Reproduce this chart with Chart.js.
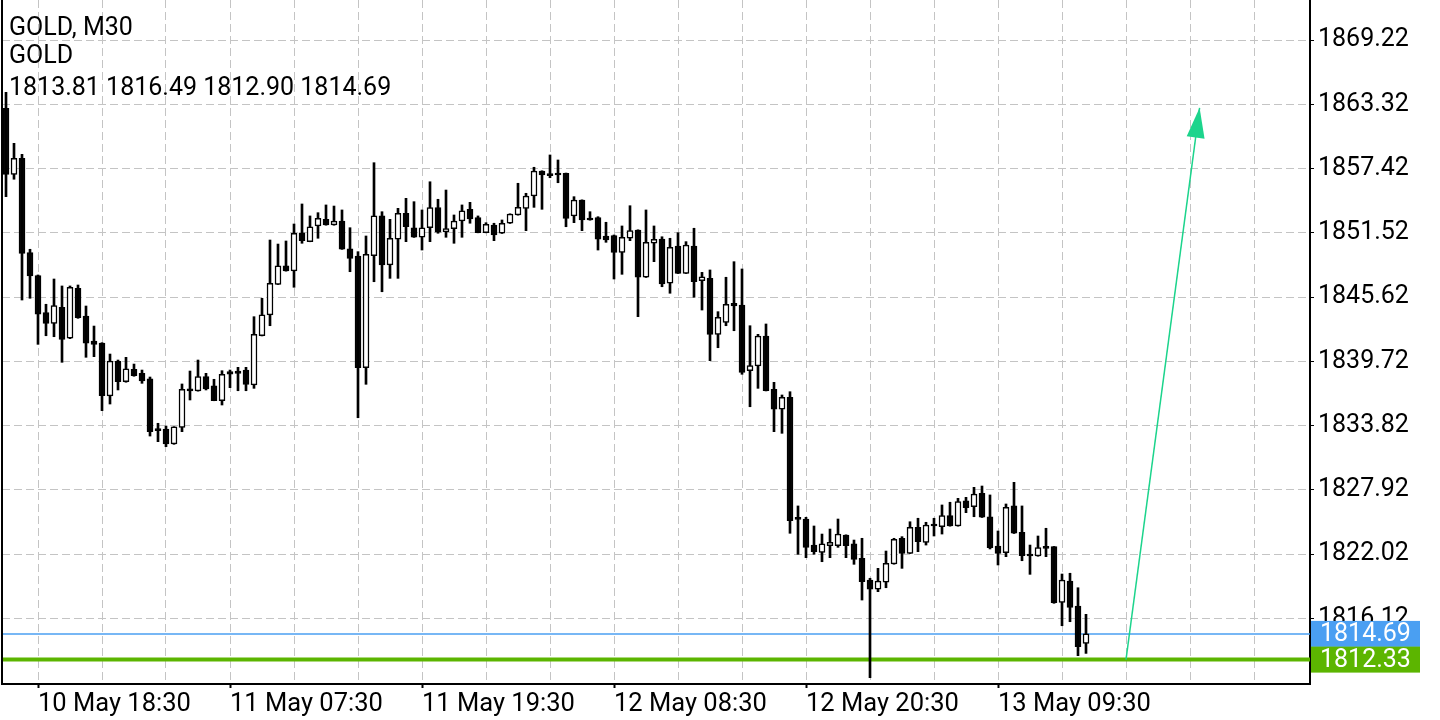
<!DOCTYPE html>
<html>
<head>
<meta charset="utf-8">
<script src="https://cdn.jsdelivr.net/npm/chart.js@4.4.0/dist/chart.umd.min.js"></script>
<style>
  html, body { margin: 0; padding: 0; background: #fff; }
  canvas { display: block; }
</style>
</head>
<body>
<canvas id="chart" width="1440" height="720"></canvas>
<script>
// GOLD M30 candles, 10 May 16:30 -> 13 May 14:30 (one per array slot)
const opens = [
  1862.96, 1856.89, 1858.36, 1849.70, 1847.60, 1844.19, 1843.21, 1844.68, 1841.84, 1846.43,
  1843.88, 1841.59, 1841.40, 1836.54, 1839.72, 1837.85, 1838.99, 1838.62, 1838.12, 1833.51,
  1833.51, 1832.13, 1833.66, 1837.15, 1837.00, 1838.31, 1837.48, 1836.11, 1838.77, 1838.83,
  1838.92, 1837.55, 1842.07, 1843.98, 1846.79, 1848.50, 1848.02, 1851.53, 1850.71, 1852.15,
  1852.76, 1852.24, 1852.61, 1850.04, 1849.39, 1839.14, 1849.42, 1853.07, 1848.57, 1850.93,
  1853.31, 1851.99, 1851.11, 1851.99, 1853.83, 1851.60, 1851.90, 1852.61, 1853.68, 1852.91,
  1851.53, 1852.24, 1851.48, 1852.40, 1853.16, 1853.77, 1854.90, 1857.20, 1856.92, 1856.99,
  1856.99, 1853.07, 1854.53, 1852.85, 1852.91, 1851.23, 1851.26, 1849.73, 1851.02, 1851.78,
  1847.44, 1850.56, 1850.95, 1846.89, 1850.31, 1847.80, 1850.31, 1847.12, 1847.34, 1842.20,
  1843.30, 1845.05, 1844.89, 1838.86, 1839.29, 1842.05, 1837.15, 1835.32, 1836.42, 1825.24,
  1825.24, 1822.85, 1822.18, 1822.79, 1822.79, 1823.77, 1822.95, 1821.63, 1819.64, 1818.79,
  1819.43, 1821.11, 1823.47, 1822.09, 1824.48, 1823.10, 1824.76, 1824.54, 1825.55, 1824.60,
  1826.90, 1826.37, 1827.60, 1825.45, 1822.76, 1822.15, 1826.44, 1824.02, 1822.00, 1821.84,
  1822.70, 1822.70, 1817.59, 1819.55, 1817.25, 1813.81
];
const highs = [
  1864.42, 1859.74, 1858.73, 1850.01, 1847.65, 1844.96, 1847.28, 1846.64, 1846.64, 1846.73,
  1844.80, 1842.96, 1841.43, 1840.39, 1839.84, 1840.09, 1839.47, 1838.92, 1838.28, 1834.03,
  1833.78, 1833.72, 1837.64, 1838.83, 1839.84, 1838.62, 1838.07, 1838.86, 1838.92, 1839.17,
  1839.17, 1843.82, 1845.51, 1850.86, 1850.49, 1850.77, 1852.33, 1854.17, 1853.07, 1853.37,
  1854.08, 1853.98, 1853.62, 1851.99, 1849.79, 1851.23, 1857.96, 1853.46, 1852.76, 1853.77,
  1854.69, 1854.38, 1853.62, 1856.21, 1854.60, 1855.45, 1853.16, 1854.08, 1854.32, 1853.07,
  1852.45, 1852.40, 1852.70, 1853.27, 1856.07, 1855.15, 1857.54, 1857.22, 1858.67, 1858.21,
  1857.01, 1854.84, 1854.55, 1853.46, 1853.00, 1852.49, 1851.32, 1852.15, 1854.01, 1851.80,
  1853.62, 1852.15, 1851.16, 1851.02, 1851.53, 1850.71, 1851.94, 1847.89, 1848.11, 1844.28,
  1847.44, 1848.87, 1848.20, 1842.99, 1842.20, 1843.15, 1837.79, 1836.63, 1836.93, 1826.44,
  1825.40, 1824.60, 1823.86, 1824.32, 1825.24, 1823.79, 1823.31, 1823.47, 1819.80, 1820.71,
  1822.30, 1823.47, 1823.62, 1824.99, 1825.31, 1824.94, 1825.31, 1826.53, 1826.78, 1827.14,
  1827.23, 1828.15, 1828.27, 1827.45, 1824.14, 1826.62, 1828.61, 1826.44, 1822.85, 1823.68,
  1824.39, 1822.72, 1820.19, 1820.26, 1818.93, 1816.49
];
const lows = [
  1854.84, 1856.44, 1845.35, 1845.51, 1841.28, 1842.07, 1841.98, 1839.63, 1841.80, 1843.67,
  1840.09, 1840.15, 1835.19, 1835.80, 1837.09, 1837.80, 1838.35, 1837.70, 1832.86, 1832.34,
  1831.88, 1832.10, 1833.26, 1836.17, 1836.98, 1837.09, 1836.10, 1835.71, 1837.30, 1837.02,
  1837.02, 1837.24, 1842.05, 1842.99, 1846.77, 1848.00, 1846.52, 1850.56, 1850.70, 1851.02,
  1852.22, 1852.22, 1850.00, 1847.95, 1834.54, 1837.61, 1847.03, 1846.11, 1847.34, 1847.34,
  1850.71, 1851.10, 1849.94, 1850.71, 1851.48, 1851.11, 1850.56, 1851.11, 1852.40, 1851.52,
  1851.52, 1850.80, 1851.46, 1852.38, 1853.14, 1851.72, 1853.86, 1853.68, 1856.58, 1856.12,
  1852.08, 1852.45, 1851.72, 1852.68, 1849.94, 1850.65, 1847.28, 1847.71, 1850.80, 1843.82,
  1847.42, 1848.87, 1846.57, 1845.97, 1847.78, 1847.78, 1845.60, 1844.43, 1839.78, 1840.97,
  1842.99, 1842.53, 1838.53, 1835.55, 1837.24, 1837.00, 1833.26, 1833.11, 1823.93, 1822.00,
  1821.69, 1822.00, 1821.32, 1821.69, 1822.64, 1821.69, 1821.08, 1817.80, 1810.67, 1818.57,
  1818.93, 1821.09, 1820.71, 1822.07, 1822.24, 1822.85, 1823.68, 1823.86, 1824.58, 1824.58,
  1825.82, 1825.45, 1825.38, 1822.49, 1821.02, 1821.78, 1823.91, 1821.41, 1820.16, 1821.82,
  1821.78, 1817.50, 1815.44, 1815.81, 1812.69, 1812.90
];
const closes = [
  1856.89, 1858.36, 1849.64, 1847.56, 1844.04, 1843.21, 1844.83, 1841.74, 1846.52, 1843.73,
  1841.38, 1841.28, 1836.56, 1839.75, 1837.85, 1839.02, 1838.40, 1837.91, 1833.26, 1833.35,
  1832.13, 1833.70, 1837.15, 1837.00, 1838.31, 1837.18, 1836.11, 1838.53, 1838.53, 1838.62,
  1837.61, 1842.20, 1843.98, 1846.89, 1848.50, 1848.02, 1851.48, 1850.80, 1852.08, 1852.85,
  1852.24, 1852.61, 1850.01, 1849.18, 1839.14, 1849.55, 1853.09, 1848.57, 1851.02, 1853.31,
  1852.08, 1851.11, 1851.99, 1853.83, 1851.57, 1851.90, 1852.61, 1853.55, 1852.79, 1851.53,
  1852.30, 1851.32, 1852.40, 1853.25, 1853.86, 1854.90, 1857.20, 1856.83, 1856.77, 1856.83,
  1852.85, 1854.53, 1852.70, 1852.70, 1850.93, 1850.86, 1849.73, 1851.11, 1851.72, 1847.44,
  1850.65, 1850.93, 1846.82, 1850.19, 1847.80, 1850.40, 1847.03, 1847.49, 1842.20, 1843.76,
  1844.96, 1844.80, 1838.71, 1839.32, 1842.05, 1837.02, 1835.32, 1836.42, 1825.09, 1825.20,
  1822.64, 1822.24, 1822.95, 1823.10, 1823.86, 1822.79, 1821.54, 1819.48, 1818.79, 1819.55,
  1821.17, 1823.38, 1822.09, 1824.48, 1823.16, 1824.69, 1824.60, 1825.55, 1824.60, 1826.83,
  1826.28, 1827.54, 1825.40, 1822.61, 1822.09, 1826.32, 1823.93, 1821.87, 1821.84, 1822.61,
  1822.55, 1817.56, 1819.64, 1817.13, 1813.51, 1814.69
];

const yTicks = [1869.22, 1863.32, 1857.42, 1851.52, 1845.62, 1839.72, 1833.82, 1827.92, 1822.02, 1816.12];
const xTickIdx = [4, 28, 52, 76, 100, 124];
const xTickLabels = ["10 May 18:30", "11 May 07:30", "11 May 19:30", "12 May 08:30", "12 May 20:30", "13 May 09:30"];
const gridStep = 8;

const bidPrice = 1814.69;
const levelPrice = 1812.33;
const arrowX = [140, 149.2];
const arrowY = [1812.33, 1863.0];
const headerLines = ["GOLD, M30", "GOLD", "1813.81 1816.49 1812.90 1814.69"];

const X_MIN = -0.5, X_MAX = 163;
const BLUE = "#4a9ff2";
const GREEN = "#5cb500";
const ARROW = "#1cd48c";
const FONT = "Roboto";

const idx = opens.map((_, i) => i);
const bull = idx.map(i => closes[i] >= opens[i]);
const wickData = idx.map(i => ({x: i, y: [lows[i], highs[i]]}));
const bodyData = idx.map(i => ({x: i, y: [opens[i], closes[i]]}));

const overlay = {
  id: "overlay",
  afterDraw(chart) {
    const {ctx, chartArea: a, scales: {y}} = chart;
    ctx.save();

    // left frame line
    ctx.strokeStyle = "#000";
    ctx.lineWidth = 2;
    ctx.beginPath();
    ctx.moveTo(a.left, a.top);
    ctx.lineTo(a.left, a.bottom);
    ctx.stroke();

    // arrow head on the forecast line
    const pts = chart.getDatasetMeta(4).data;
    const p0 = pts[0], p1 = pts[1];
    const ang = Math.atan2(p1.y - p0.y, p1.x - p0.x);
    const len = 30, half = 9;
    const bx = p1.x - len * Math.cos(ang), by = p1.y - len * Math.sin(ang);
    ctx.fillStyle = ARROW;
    ctx.beginPath();
    ctx.moveTo(p1.x, p1.y);
    ctx.lineTo(bx + half * Math.sin(ang), by - half * Math.cos(ang));
    ctx.lineTo(bx - half * Math.sin(ang), by + half * Math.cos(ang));
    ctx.closePath();
    ctx.fill();

    // price tags on the right axis
    ctx.font = "25px " + FONT;
    ctx.textBaseline = "middle";
    ctx.textAlign = "left";
    [[bidPrice, BLUE], [levelPrice, GREEN]].forEach(([v, c]) => {
      const py = y.getPixelForValue(v);
      ctx.fillStyle = c;
      ctx.fillRect(a.right + 1, py - 13, 109, 26);
      ctx.fillStyle = "#fff";
      ctx.fillText(v.toFixed(2), a.right + 10, py + 1);
    });

    // header text
    ctx.fillStyle = "#000";
    headerLines.forEach((t, i) => ctx.fillText(t, 9, [29, 57, 89][i]));
    ctx.restore();
  }
};

new Chart(document.getElementById("chart"), {
  type: "bar",
  data: {
    datasets: [
      {
        type: "line",
        data: [{x: X_MIN, y: bidPrice}, {x: X_MAX, y: bidPrice}],
        borderColor: BLUE, borderWidth: 1.5, pointRadius: 0, order: 10
      },
      {
        type: "line",
        data: [{x: X_MIN, y: levelPrice}, {x: X_MAX, y: levelPrice}],
        borderColor: GREEN, borderWidth: 4, pointRadius: 0, order: 9
      },
      {
        data: wickData, backgroundColor: "#000",
        barThickness: 2, grouped: false, order: 2
      },
      {
        data: bodyData,
        backgroundColor: bull.map(b => (b ? "#fff" : "#000")),
        borderColor: "#000", borderWidth: 1.5, borderSkipped: false,
        barThickness: 6, minBarLength: 2, grouped: false, order: 1
      },
      {
        type: "line",
        data: arrowX.map((x, i) => ({x, y: arrowY[i]})),
        borderColor: ARROW, borderWidth: 1.5, pointRadius: 0, order: 0
      }
    ]
  },
  options: {
    responsive: false,
    animation: false,
    layout: {padding: {left: 2, top: 0, right: 0, bottom: 0}},
    plugins: {legend: {display: false}, tooltip: {enabled: false}},
    scales: {
      x: {
        type: "linear",
        min: X_MIN,
        max: X_MAX,
        offset: false,
        afterBuildTicks: (s) => {
          const t = [];
          for (let v = xTickIdx[0] % gridStep; v <= X_MAX; v += gridStep) t.push({value: v});
          s.ticks = t;
        },
        afterFit: (s) => { s.height = 36; s.paddingLeft = 0; s.paddingRight = 0; },
        grid: {
          color: "#c4c4c4",
          offset: false,
          tickLength: 4,
          tickWidth: 2,
          tickColor: (c) => (c.tick && xTickIdx.includes(c.tick.value) ? "#000" : "rgba(0,0,0,0)")
        },
        border: {display: true, color: "#000", width: 2, dash: [8, 4]},
        ticks: {
          autoSkip: false,
          maxRotation: 0,
          align: "start",
          padding: 4,
          color: "#000",
          font: {family: FONT, size: 25.5, lineHeight: 1},
          callback: (v) => {
            const i = xTickIdx.indexOf(v);
            return i >= 0 ? xTickLabels[i] : "";
          }
        }
      },
      y: {
        position: "right",
        min: 1810.09,
        max: 1872.90,
        afterBuildTicks: (s) => { s.ticks = yTicks.map(v => ({value: v})); },
        afterFit: (s) => { s.width = 130; s.paddingTop = 0; s.paddingBottom = 0; },
        grid: {color: "#c4c4c4", tickLength: 4, tickColor: "#000"},
        border: {display: true, color: "#000", width: 2, dash: [8, 4]},
        ticks: {
          padding: 4,
          color: "#000",
          font: {family: FONT, size: 25},
          callback: (v) => v.toFixed(2)
        }
      }
    }
  },
  plugins: [overlay]
});
</script>
</body>
</html>
